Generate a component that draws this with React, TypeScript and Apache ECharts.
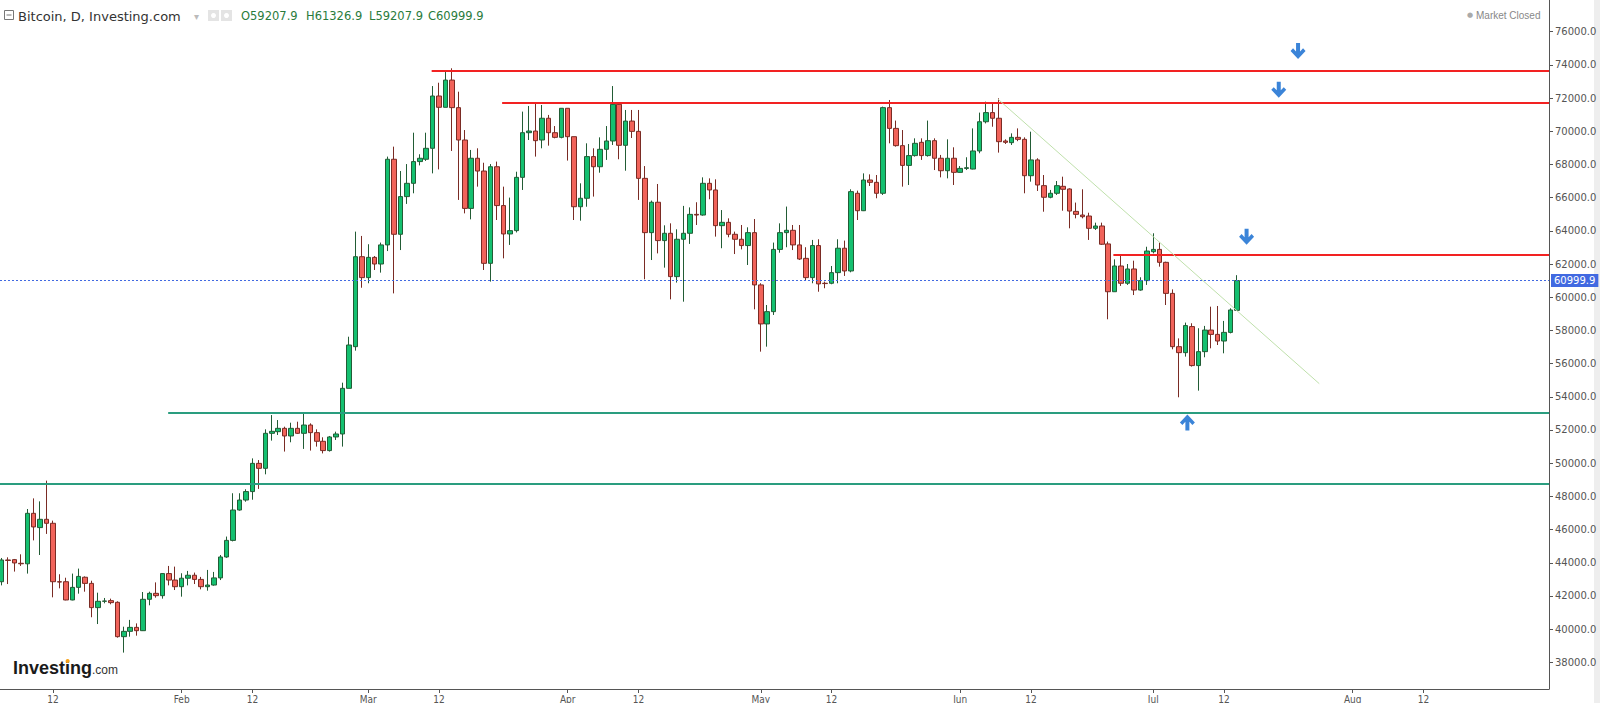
import React, { useEffect, useRef } from 'react';
import * as echarts from 'echarts';

// Day index: Jan 1, 2024 = 0. First candle = Jan 4, 2024.
const firstDay = 3;

// Daily candles [open, high, low, close], Jan 4 → Jul 14, 2024
const ohlc: number[][] = [
  // Jan 4-31
  [42860, 44290, 42640, 44170], [44170, 44330, 42720, 44140], [44190, 44230, 43470, 43990], [43970, 44510, 43810, 43940],
  [43940, 47240, 43350, 46980], [46980, 47880, 45350, 46160], [46120, 47700, 44470, 46620], [46620, 48950, 45740, 46380],
  [46380, 46540, 41920, 42860], [42860, 43310, 42460, 42840], [42860, 43100, 41740, 41760], [41760, 43350, 41740, 42520],
  [42520, 43650, 42140, 43180], [43130, 43180, 42260, 42760], [42760, 42920, 40720, 41300], [41300, 42200, 40310, 41680],
  [41680, 41880, 41560, 41700], [41720, 41840, 41500, 41600], [41620, 41680, 39490, 39550], [39550, 40150, 38590, 39870],
  [39870, 40560, 39550, 40110], [40110, 40350, 39610, 39910], [39910, 42240, 39890, 41800], [41800, 42260, 41440, 42160],
  [42160, 42820, 41900, 42020], [42020, 43370, 41840, 43350], [43350, 43810, 42640, 42960], [42960, 43770, 42360, 42560],
  // Feb 1-29
  [42560, 43370, 41960, 43070], [43070, 43510, 42640, 43250], [43250, 43410, 42720, 43000], [43000, 43150, 42400, 42560],
  [42560, 43570, 42320, 42660], [42660, 43450, 42620, 43090], [43090, 44470, 42960, 44350], [44350, 45580, 44300, 45350],
  [45350, 48190, 45290, 47180], [47180, 48190, 47140, 47780], [47780, 48430, 47680, 48290], [48290, 50290, 47800, 49990],
  [49990, 50190, 48450, 49690], [49690, 52040, 49330, 51800], [51800, 52900, 51360, 51920], [51900, 52600, 51700, 52100],
  [52100, 52200, 50700, 51640], [51640, 52440, 51260, 52100], [52100, 52500, 51760, 51800], [51800, 53000, 50860, 52300],
  [52300, 52400, 50760, 51840], [51840, 52040, 51000, 51320], [51320, 51560, 50590, 50760], [50760, 51640, 50700, 51580],
  [51580, 51900, 51400, 51760], [51760, 54850, 51000, 54510], [54510, 57620, 54510, 57120], [57020, 63950, 56780, 62440],
  [62440, 63690, 60570, 61180],
  // Mar 1-31
  [61180, 63190, 60840, 62400], [62400, 62480, 61640, 62000], [62000, 63290, 61480, 63150], [63150, 68470, 62780, 68310],
  [68310, 69070, 60230, 63790], [63790, 67600, 62840, 66060], [66060, 68020, 65620, 66860], [66860, 69910, 66260, 68170],
  [68170, 68610, 67940, 68370], [68310, 69910, 68210, 68970], [68970, 72720, 67460, 72120], [72120, 72920, 67700, 71440],
  [71440, 73590, 71440, 73080], [73080, 73790, 68810, 71420], [71420, 72380, 65860, 69470], [69470, 70070, 65050, 65350],
  [65350, 68870, 64690, 68370], [68370, 68970, 66660, 67600], [67600, 68100, 61640, 62040], [62040, 68020, 60940, 67860],
  [67860, 68170, 64650, 65520], [65520, 66660, 62340, 63810], [63810, 66000, 63150, 64010], [64010, 67560, 63900, 67220],
  [67220, 71180, 66460, 69910], [69910, 71520, 69470, 70010], [70010, 71720, 68470, 69430], [69470, 71580, 68970, 70780],
  [70780, 70980, 69130, 69910], [69910, 70310, 69570, 69630], [69630, 71380, 69570, 71380],
  // Apr 1-30
  [71380, 71380, 68230, 69670], [69670, 69670, 64650, 65450], [65450, 66860, 64610, 65960], [65960, 69270, 65450, 68470],
  [68470, 68970, 66060, 67860], [67860, 69630, 67500, 68910], [68910, 70310, 68270, 69410], [69410, 72720, 69170, 71620],
  [71620, 71720, 68310, 69150], [69150, 71280, 67620, 70610], [70610, 71280, 69590, 69990], [69990, 71280, 65860, 67160],
  [67160, 67900, 61080, 63890], [63890, 65820, 62240, 65720], [65720, 66820, 62640, 63410], [63410, 64330, 61780, 63850],
  [63850, 64450, 59870, 61240], [61240, 64090, 60880, 63490], [63490, 65500, 59730, 63850], [63850, 65410, 63210, 64990],
  [64990, 65720, 64350, 64950], [64950, 67220, 64910, 66860], [66860, 67160, 65900, 66460], [66460, 67100, 63650, 64310],
  [64310, 65250, 62950, 64510], [64510, 64750, 63610, 63790], [63790, 63950, 62600, 63490], [63490, 64350, 62880, 63110],
  [63110, 64210, 61940, 63890], [63890, 64710, 59270, 60740],
  // May 1-31
  [60740, 60840, 56720, 58390], [58390, 59530, 57020, 59130], [59130, 63290, 58930, 62880], [62880, 64450, 62680, 63890],
  [63890, 65460, 63010, 64030], [64030, 64350, 62840, 63150], [63150, 64350, 62240, 62300], [62340, 63010, 60980, 61180],
  [61180, 63450, 60840, 63110], [63110, 63490, 60330, 60800], [60840, 60940, 60540, 60820], [60840, 61880, 60780, 61480],
  [61480, 63490, 60840, 62950], [62950, 63410, 61280, 61580], [61580, 66500, 61500, 66360], [66260, 66420, 64650, 65210],
  [65210, 67460, 65190, 67060], [67060, 67400, 66700, 66920], [66920, 67360, 65960, 66260], [66260, 71480, 66160, 71420],
  [71420, 71880, 69270, 70170], [70170, 70640, 69070, 69130], [69130, 70070, 66660, 67940], [67940, 69230, 66760, 68530],
  [68530, 69570, 68470, 69270], [69330, 69570, 68270, 68530], [68530, 70640, 68470, 69430], [69430, 69570, 67660, 68370],
  [68370, 68570, 67220, 67620], [67620, 69510, 67160, 68370], [68370, 69030, 66760, 67520],
  // Jun 1-30
  [67520, 67900, 67500, 67760], [67760, 68430, 67660, 67800], [67720, 70170, 67700, 68810], [68810, 71120, 68670, 70570],
  [70570, 71780, 70470, 71120], [71120, 71680, 70270, 70780], [70780, 71980, 68710, 69370], [69410, 69510, 69230, 69330],
  [69310, 69870, 69170, 69630], [69630, 70170, 69400, 69510], [69510, 69630, 66260, 67320], [67320, 69970, 66960, 68270],
  [68270, 68370, 66400, 66760], [66720, 67360, 65150, 66020], [66020, 66460, 65960, 66260], [66260, 67000, 66160, 66720],
  [66680, 67260, 65210, 66500], [66520, 66560, 64150, 65190], [65170, 65700, 64750, 64990], [64950, 66500, 64750, 64850],
  [64890, 65090, 63450, 64150], [64150, 64490, 64050, 64290], [64290, 64490, 63150, 63190], [63210, 63350, 58670, 60330],
  [60330, 62280, 60330, 61880], [61880, 62500, 60680, 60840], [60840, 62000, 60740, 61700], [61700, 62200, 60130, 60430],
  [60430, 61200, 60390, 61000], [61000, 63040, 60740, 62780],
  // Jul 1-14
  [62740, 63850, 62640, 62880], [62880, 63290, 61840, 62100], [62100, 62140, 59530, 60230], [60230, 60470, 56860, 57020],
  [57020, 57520, 53970, 56660], [56660, 58470, 56420, 58290], [58230, 58430, 55820, 55880], [55880, 58130, 54370, 56720],
  [56720, 58270, 56380, 58020], [58020, 59430, 56920, 57760], [57760, 59470, 57120, 57360], [57360, 58570, 56620, 57880],
  [57880, 59330, 57820, 59230], [59207.9, 61326.9, 59207.9, 60999.9],
];

const xTickDays = [11, 31, 42, 60, 71, 91, 102, 121, 132, 152, 163, 182, 193, 213, 224];
const xTickLabels = ['12', 'Feb', '12', 'Mar', '12', 'Apr', '12', 'May', '12', 'Jun', '12', 'Jul', '12', 'Aug', '12'];
const yTicks = [38000, 40000, 42000, 44000, 46000, 48000, 50000, 52000, 54000, 56000, 58000,
  60000, 62000, 64000, 66000, 68000, 70000, 72000, 74000, 76000];

const lastPrice = 60999.9;
const header = { open: '59207.9', high: '61326.9', low: '59207.9', close: '60999.9' };

// Drawn levels: [start day, price]
const resistanceLines = [[69.85, 73626], [80.8, 71739], [175.8, 62562]];
const supportLines = [[28.9, 53024], [2.764, 48760]];
const trendLine = [[157.9, 71920], [207.8, 54790]];
const downArrows = [[204.5, 74831], [201.5, 72494], [196.5, 63645]];
const upArrows = [[187.3, 52458]];

const xMin = 2.764;
const xMax = 243.5;
const yMin = 36397;
const yMax = 77904;

const arrowPath = 'path://M6 0H10V8L13 5L15.5 7.5L8 15L0.5 7.5L3 5L6 8Z';
const UI_FONT = '"DejaVu Sans", "Liberation Sans", sans-serif';

export default function App() {
  const ref = useRef<HTMLDivElement>(null);
  useEffect(() => {
    if (!ref.current) return;
    const chart = echarts.init(ref.current, undefined, { renderer: 'svg' });
    const hLine = (pts: number[][], color: string) =>
      pts.map(([d, p]) => [
        { coord: [d, p], lineStyle: { color, width: 2, type: 'solid' } },
        { coord: [xMax, p] },
      ]);
    const option: any = {
      animation: false,
      backgroundColor: '#ffffff',
      textStyle: { fontFamily: UI_FONT },
      grid: { left: 0, right: 51, top: 0, bottom: 14, containLabel: false, outerBoundsMode: 'none' },
      xAxis: {
        type: 'value',
        min: xMin,
        max: xMax,
        splitLine: { show: false },
        axisLine: { show: true, lineStyle: { color: '#555', width: 1 } },
        axisTick: { show: true, length: 4, lineStyle: { color: '#555' }, customValues: xTickDays },
        axisLabel: {
          show: true,
          customValues: xTickDays,
          formatter: (v: number) => {
            const i = xTickDays.indexOf(Math.round(v));
            return i >= 0 ? xTickLabels[i] : '';
          },
          color: '#555',
          fontSize: 10,
          margin: 5,
          fontFamily: '"Liberation Sans Narrow", "DejaVu Sans Condensed", sans-serif',
        },
      },
      yAxis: {
        type: 'value',
        position: 'right',
        min: yMin,
        max: yMax,
        scale: true,
        splitLine: { show: false },
        axisLine: { show: true, lineStyle: { color: '#555', width: 1 } },
        axisTick: { show: true, length: 4, lineStyle: { color: '#555' }, customValues: yTicks },
        axisLabel: {
          show: true,
          customValues: yTicks,
          formatter: (v: number) => v.toFixed(1),
          color: '#555',
          fontSize: 10,
          margin: 6,
          fontFamily: UI_FONT,
        },
      },
      series: [
        {
          type: 'candlestick',
          data: ohlc.map((r, i) => [firstDay + i, r[0], r[3], r[2], r[1]]),
          encode: { x: 0, y: [1, 2, 3, 4] },
          barWidth: 5,
          itemStyle: {
            color: '#14c070',
            color0: '#f1635a',
            borderColor: '#225c35',
            borderColor0: '#7a2b24',
            borderWidth: 1,
          },
          markLine: {
            silent: true,
            symbol: ['none', 'none'],
            label: { show: false },
            data: [
              ...hLine(resistanceLines, '#f22222'),
              ...hLine(supportLines, '#2a9d7f'),
              [
                { coord: trendLine[0], lineStyle: { color: '#bfe0ab', width: 1, type: 'solid' } },
                { coord: trendLine[1] },
              ],
              {
                yAxis: lastPrice,
                lineStyle: { color: '#4169e1', width: 1, type: [2, 2] },
                label: {
                  show: true,
                  position: 'end',
                  distance: 2,
                  formatter: lastPrice.toFixed(1),
                  color: '#fff',
                  backgroundColor: '#4169e1',
                  padding: [2, 3, 1, 3],
                  fontSize: 10,
                  fontFamily: UI_FONT,
                },
              },
            ],
          },
          markPoint: {
            silent: true,
            label: { show: false },
            data: [
              ...downArrows.map((c) => ({
                coord: c, symbol: arrowPath, symbolSize: [15, 16], symbolRotate: 0,
                itemStyle: { color: '#3b84d8' },
              })),
              ...upArrows.map((c) => ({
                coord: c, symbol: arrowPath, symbolSize: [15, 16], symbolRotate: 180,
                itemStyle: { color: '#3b84d8' },
              })),
            ],
          },
        },
      ],
      graphic: [
        { type: 'rect', shape: { x: 1594, y: 0, width: 6, height: 703 }, style: { fill: '#eeeeee' }, silent: true },
        { type: 'rect', shape: { x: 4.5, y: 10.5, width: 9, height: 9 }, style: { fill: '#fff', stroke: '#777', lineWidth: 1 } },
        { type: 'line', shape: { x1: 6.5, y1: 15, x2: 11.5, y2: 15 }, style: { stroke: '#777', lineWidth: 1 } },
        { type: 'text', x: 18, y: 16, style: { text: 'Bitcoin, D, Investing.com', fill: '#333', fontSize: 13, fontFamily: UI_FONT, verticalAlign: 'middle' } },
        { type: 'text', x: 194, y: 16, style: { text: '▾', fill: '#bbb', fontSize: 10, fontFamily: UI_FONT, verticalAlign: 'middle' } },
        { type: 'rect', shape: { x: 208, y: 10, width: 11, height: 11 }, style: { fill: '#e4e4e4' } },
        { type: 'circle', shape: { cx: 213.5, cy: 15.5, r: 2.5 }, style: { fill: '#fff' } },
        { type: 'rect', shape: { x: 221, y: 10, width: 11, height: 11 }, style: { fill: '#e4e4e4' } },
        { type: 'circle', shape: { cx: 226.5, cy: 15.5, r: 2.5 }, style: { fill: '#fff' } },
        { type: 'text', x: 241, y: 16, style: { text: 'O' + header.open, fill: '#2a7b3c', fontSize: 11.5, fontFamily: UI_FONT, verticalAlign: 'middle' } },
        { type: 'text', x: 306, y: 16, style: { text: 'H' + header.high, fill: '#2a7b3c', fontSize: 11.5, fontFamily: UI_FONT, verticalAlign: 'middle' } },
        { type: 'text', x: 369, y: 16, style: { text: 'L' + header.low, fill: '#2a7b3c', fontSize: 11.5, fontFamily: UI_FONT, verticalAlign: 'middle' } },
        { type: 'text', x: 428, y: 16, style: { text: 'C' + header.close, fill: '#2a7b3c', fontSize: 11.5, fontFamily: UI_FONT, verticalAlign: 'middle' } },
        { type: 'text', x: 1467, y: 15, style: { text: '●', fill: '#aaa', fontSize: 7, fontFamily: UI_FONT, verticalAlign: 'middle' } },
        { type: 'text', x: 1476, y: 15, style: { text: 'Market Closed', fill: '#888', fontSize: 10, fontFamily: '"Liberation Sans", sans-serif', verticalAlign: 'middle' } },
        { type: 'text', x: 13, y: 668, style: { text: 'Investing', fill: '#1a1a1a', fontSize: 18, fontWeight: 'bold', fontFamily: '"Liberation Sans", sans-serif', verticalAlign: 'middle' } },
        { type: 'text', x: 92, y: 670, style: { text: '.com', fill: '#333', fontSize: 12, fontFamily: '"Liberation Sans", sans-serif', verticalAlign: 'middle' } },
        { type: 'circle', shape: { cx: 67.6, cy: 661, r: 2 }, style: { fill: '#f7a21b' } },
      ],
    };
    chart.setOption(option);
    return () => chart.dispose();
  }, []);
  return (
    <div
      ref={ref}
      style={{ position: 'absolute', left: 0, top: 0, width: 1600, height: 703, background: '#fff' }}
    />
  );
}
